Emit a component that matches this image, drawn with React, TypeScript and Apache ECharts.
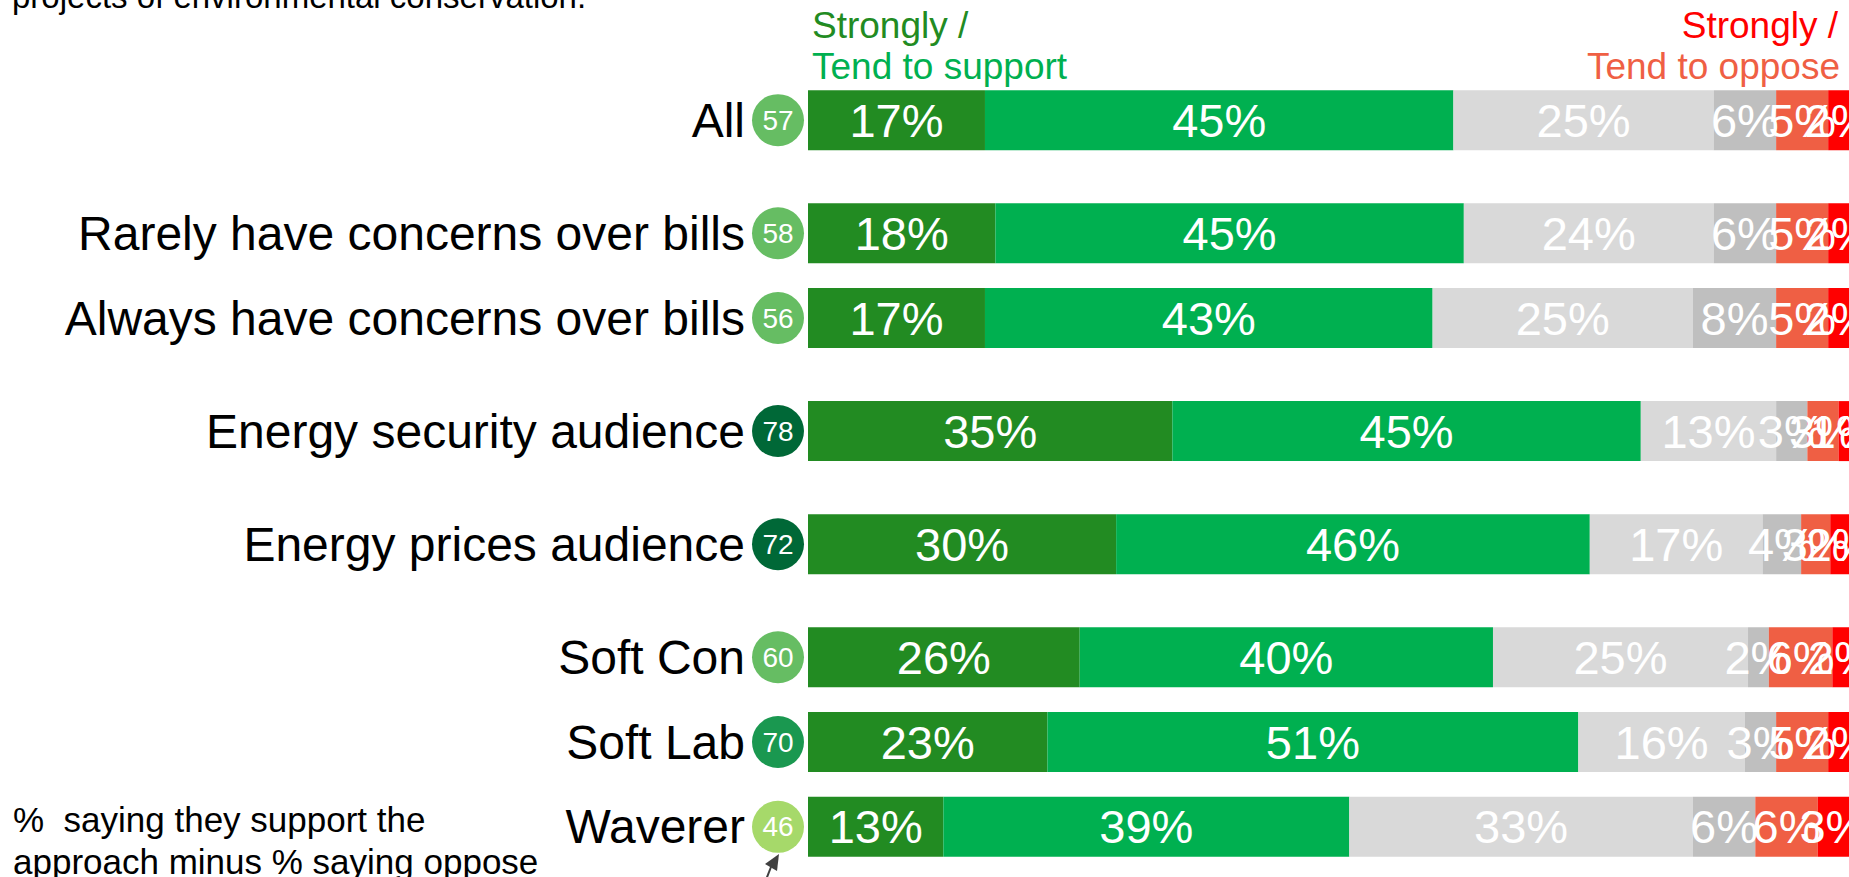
import React, { useEffect, useRef } from 'react';
import * as echarts from 'echarts';

// ---- data ----
const categories = [
  'All',
  'Rarely have concerns over bills',
  'Always have concerns over bills',
  'Energy security audience',
  'Energy prices audience',
  'Soft Con',
  'Soft Lab',
  'Waverer',
];
const netScores = [57, 58, 56, 78, 72, 60, 70, 46];
const groups = [0, 1, 1, 2, 3, 4, 4, 4];

const stronglySupport = [17, 18, 17, 35, 29.6, 26.1, 23, 13];
const tendSupport = [45, 45, 43, 45, 45.5, 39.7, 51, 39];
const neither = [25, 24, 25, 13, 16.6, 24.5, 16, 33];
const dontKnow = [6, 6, 8, 3, 3.7, 2, 3, 6];
const tendOppose = [5, 5, 5, 3, 2.8, 6.1, 5, 6];
const stronglyOppose = [2, 2, 2, 1, 1.8, 1.8, 2, 3];

const seriesNames = ['Strongly support', 'Tend to support', 'Neither', "Don't know", 'Tend to oppose', 'Strongly oppose'];
const seriesValues = [stronglySupport, tendSupport, neither, dontKnow, tendOppose, stronglyOppose];
const seriesColors = ['#228B22', '#00B050', '#D9D9D9', '#BFBFBF', '#EF5F44', '#FF0000'];

const FONT = '"Liberation Sans", Arial, sans-serif';

function badgeStyle(v: number): string {
  if (v >= 72) return 's4';
  if (v >= 66) return 's3';
  if (v >= 50) return 's2';
  return 's1';
}

export default function App() {
  const ref = useRef<HTMLDivElement>(null);
  useEffect(() => {
    const chart = echarts.init(ref.current!, null, { renderer: 'svg' });

    // build slot layout: rows within a group are 3 slots apart, groups 4 apart
    const slotOf: number[] = [];
    let s = 0;
    categories.forEach((_, i) => {
      if (i > 0) s += groups[i] === groups[i - 1] ? 3 : 4;
      slotOf.push(s);
    });
    const nSlots = s + 1;
    const axisData: string[] = [];
    const rowAt: number[] = [];
    for (let k = 0; k < nSlots; k++) {
      axisData.push('gap' + k);
      rowAt.push(-1);
    }
    slotOf.forEach((sl, i) => {
      axisData[sl] = categories[i];
      rowAt[sl] = i;
    });
    const toSlots = (arr: number[]) => {
      const out: any[] = new Array(nSlots).fill('-');
      slotOf.forEach((sl, i) => (out[sl] = arr[i]));
      return out;
    };

    const badgeBase = {
      width: 52,
      height: 52,
      lineHeight: 52,
      borderRadius: 26,
      align: 'center',
      color: '#fff',
      fontSize: 28,
      fontFamily: FONT,
    };

    const option: any = {
      animation: false,
      backgroundColor: '#fff',
      grid: { left: 808, right: 0, top: 106, height: 735, containLabel: false },
      xAxis: { type: 'value', min: 0, max: 100, show: false },
      yAxis: {
        type: 'category',
        inverse: true,
        data: axisData,
        axisLine: { show: false },
        axisTick: { show: false },
        splitLine: { show: false },
        axisLabel: {
          interval: 0,
          margin: 4,
          fontSize: 48,
          fontFamily: FONT,
          color: '#000',
          formatter: (_v: string, idx: number) => {
            const r = rowAt[idx];
            if (r < 0) return '';
            return `{n|${categories[r]}}{${badgeStyle(netScores[r])}|${netScores[r]}}`;
          },
          rich: {
            n: { fontSize: 48, fontFamily: FONT, color: '#000', padding: [0, 7, 0, 0] },
            s1: { ...badgeBase, backgroundColor: '#A6D96A' },
            s2: { ...badgeBase, backgroundColor: '#66BD63' },
            s3: { ...badgeBase, backgroundColor: '#1A9850' },
            s4: { ...badgeBase, backgroundColor: '#006837' },
          },
        },
      },
      series: seriesNames.map((name, i) => ({
        name,
        type: 'bar',
        stack: 'total',
        barWidth: 60,
        clip: false,
        itemStyle: { color: seriesColors[i] },
        label: {
          show: true,
          position: 'inside',
          color: '#fff',
          fontSize: 47,
          fontFamily: FONT,
          formatter: (p: any) => Math.round(p.value) + '%',
        },
        data: toSlots(seriesValues[i]),
      })),
      graphic: [
        {
          type: 'text',
          left: 12,
          top: -20,
          style: { text: 'projects of environmental conservation.', fontSize: 33, fontFamily: FONT, fill: '#000' },
        },
        {
          type: 'text',
          x: 812,
          y: 25,
          style: { text: 'Strongly /', fontSize: 37, fontFamily: FONT, fill: '#228B22', verticalAlign: 'middle' },
        },
        {
          type: 'text',
          x: 812,
          y: 66,
          style: { text: 'Tend to support', fontSize: 37, fontFamily: FONT, fill: '#00B050', verticalAlign: 'middle' },
        },
        {
          type: 'text',
          x: 1838,
          y: 25,
          style: { text: 'Strongly /', fontSize: 37, fontFamily: FONT, fill: '#FF0000', align: 'right', verticalAlign: 'middle' },
        },
        {
          type: 'text',
          x: 1840,
          y: 66,
          style: { text: 'Tend to oppose', fontSize: 37, fontFamily: FONT, fill: '#EF5F44', align: 'right', verticalAlign: 'middle' },
        },
        {
          type: 'text',
          x: 13,
          y: 798,
          style: {
            text: '%  saying they support the\napproach minus % saying oppose',
            fontSize: 35,
            lineHeight: 42,
            fontFamily: FONT,
            fill: '#000',
            verticalAlign: 'top',
          },
        },
        {
          type: 'line',
          shape: { x1: 762, y1: 890, x2: 771, y2: 867 },
          style: { stroke: '#404040', lineWidth: 2 },
        },
        {
          type: 'polygon',
          shape: { points: [[779, 854], [777, 871], [765, 864]] },
          style: { fill: '#404040' },
        },
      ],
    };
    chart.setOption(option);
    return () => chart.dispose();
  }, []);
  return (
    <div
      ref={ref}
      style={{ position: 'fixed', left: 0, top: 0, width: 1849, height: 877, background: '#fff' }}
    />
  );
}
